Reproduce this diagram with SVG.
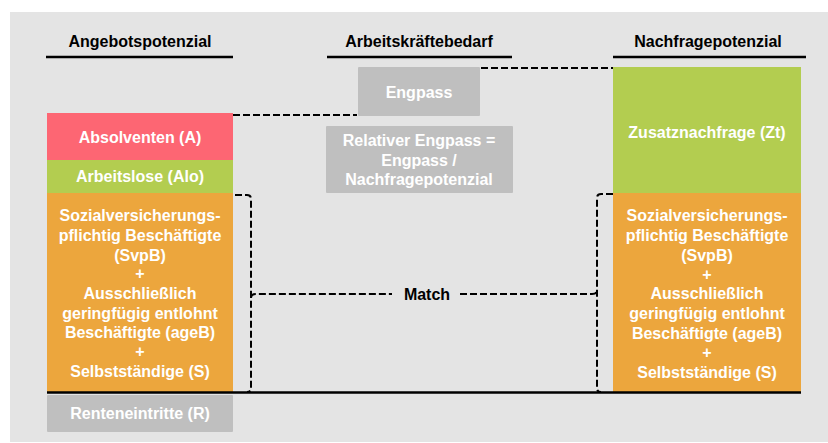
<svg xmlns="http://www.w3.org/2000/svg" width="828" height="443" viewBox="0 0 828 443">
  <style>
    .head { font-family: "Liberation Sans", Arial, sans-serif; font-weight: bold; font-size: 16px; fill: #000; text-anchor: middle; }
    .lbl { font-family: "Liberation Sans", Arial, sans-serif; font-weight: bold; font-size: 16px; fill: #fff; text-anchor: middle; dominant-baseline: central; }
    .rule { stroke: #000; stroke-width: 2.5; fill: none; }
    .dash { stroke: #000; stroke-width: 2; fill: none; stroke-dasharray: 7 3; }
    .red { fill: #fd6673; }
    .green { fill: #b3cd50; }
    .orange { fill: #eca63d; }
    .grey { fill: #bfbfbf; }
  </style>

  <!-- canvas -->
  <rect x="10" y="12" width="818" height="430" fill="#e4e4e4"/>

  <!-- column headers -->
  <g id="header-angebot">
    <text class="head" x="140" y="47">Angebotspotenzial</text>
    <line class="rule" x1="46" y1="57" x2="233" y2="57"/>
  </g>
  <g id="header-bedarf">
    <text class="head" x="419" y="47">Arbeitskräftebedarf</text>
    <line class="rule" x1="327" y1="57" x2="512" y2="57"/>
  </g>
  <g id="header-nachfrage">
    <text class="head" x="708" y="47">Nachfragepotenzial</text>
    <line class="rule" x1="613" y1="57" x2="806" y2="57"/>
  </g>

  <!-- supply side -->
  <g id="absolventen">
    <rect class="red" x="47" y="113" width="186" height="47"/>
    <text class="lbl" x="140" y="137">Absolventen (A)</text>
  </g>
  <g id="arbeitslose">
    <rect class="green" x="47" y="160" width="186" height="33"/>
    <text class="lbl" x="140" y="176">Arbeitslose (Alo)</text>
  </g>
  <g id="beschaeftigte-angebot">
    <rect class="orange" x="47" y="193" width="186" height="199"/>
    <text class="lbl" x="140" y="215">Sozialversicherungs-</text>
    <text class="lbl" x="140" y="235">pflichtig Beschäftigte</text>
    <text class="lbl" x="140" y="255">(SvpB)</text>
    <text class="lbl" x="140" y="273">+</text>
    <text class="lbl" x="140" y="293">Ausschließlich</text>
    <text class="lbl" x="140" y="313">geringfügig entlohnt</text>
    <text class="lbl" x="140" y="332">Beschäftigte (ageB)</text>
    <text class="lbl" x="140" y="351">+</text>
    <text class="lbl" x="140" y="371">Selbstständige (S)</text>
  </g>
  <g id="renteneintritte">
    <rect class="grey" x="47" y="395" width="186" height="37" rx="1"/>
    <text class="lbl" x="140" y="413">Renteneintritte (R)</text>
  </g>

  <!-- demand middle -->
  <g id="engpass">
    <rect class="grey" x="358" y="67" width="122" height="49" rx="1"/>
    <text class="lbl" x="419" y="92">Engpass</text>
  </g>
  <g id="relativer-engpass">
    <rect class="grey" x="326" y="126" width="187" height="67" rx="1"/>
    <text class="lbl" x="419" y="140">Relativer Engpass =</text>
    <text class="lbl" x="419" y="160">Engpass /</text>
    <text class="lbl" x="419" y="179">Nachfragepotenzial</text>
  </g>

  <!-- demand side -->
  <g id="zusatznachfrage">
    <rect class="green" x="613" y="67" width="188" height="126"/>
    <text class="lbl" x="707" y="132">Zusatznachfrage (Zt)</text>
  </g>
  <g id="beschaeftigte-nachfrage">
    <rect class="orange" x="613" y="193" width="188" height="199"/>
    <text class="lbl" x="707" y="215">Sozialversicherungs-</text>
    <text class="lbl" x="707" y="235">pflichtig Beschäftigte</text>
    <text class="lbl" x="707" y="255">(SvpB)</text>
    <text class="lbl" x="707" y="274">+</text>
    <text class="lbl" x="707" y="293">Ausschließlich</text>
    <text class="lbl" x="707" y="313">geringfügig entlohnt</text>
    <text class="lbl" x="707" y="333">Beschäftigte (ageB)</text>
    <text class="lbl" x="707" y="352">+</text>
    <text class="lbl" x="707" y="372">Selbstständige (S)</text>
  </g>

  <g id="match">
    <text class="head" x="427" y="300">Match</text>
  </g>

  <!-- connectors -->
  <g id="connectors">
    <line class="rule" x1="47" y1="392.5" x2="801" y2="392.5" stroke-width="2"/>
    <path class="dash" d="M233,115 H357"/>
    <path class="dash" d="M481,68 H613"/>
    <path class="dash" d="M235,195 H247 Q251,195 251,199 V388 Q251,392 247,392"/>
    <path class="dash" d="M251,298 Q251,294 256,294 H392"/>
    <path class="dash" d="M613,194 H601 Q597,194 597,198 V388 Q597,392 601,392"/>
    <path class="dash" d="M460,294 H592 Q597,294 597,290"/>
  </g>
</svg>
